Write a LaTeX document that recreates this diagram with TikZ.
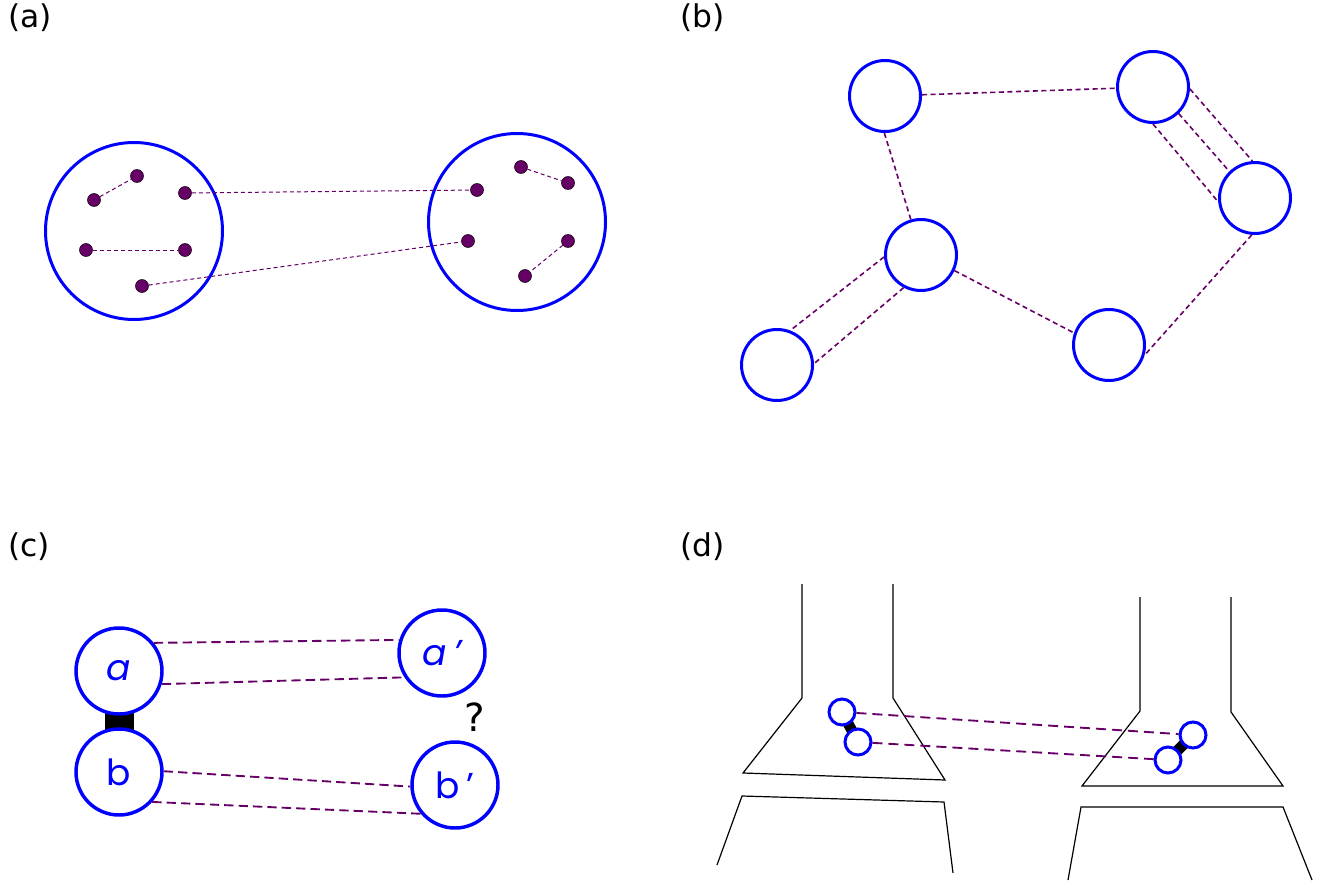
\documentclass[tikz,border=0pt]{standalone}
\usepackage{fontspec}
\setmainfont{DejaVu Sans}
\newfontfamily\popfont{Poppins}
\usetikzlibrary{shapes.geometric}
\definecolor{purp}{RGB}{102,0,102}
\definecolor{dotc}{RGB}{102,0,102}
\pgfdeclarelayer{background}
\pgfsetlayers{background,main}
\begin{document}
\begin{tikzpicture}[x=0.75pt,y=-0.75pt,
 lbl/.style={anchor=base west,inner sep=0pt,font=\fontsize{23.5}{27}\selectfont},
 bigc/.style={ellipse,draw=blue,line width=2.25pt,inner sep=0pt},
 dotn/.style={circle,draw=black,line width=0.4pt,fill=dotc,inner sep=0pt,minimum size=9.75pt},
 lnka/.style={draw=purp,line width=0.75pt,dash pattern=on 3pt off 2.25pt},
 bc/.style={circle,draw=blue,line width=2.25pt,inner sep=0pt,minimum size=53.25pt},
 lnkb/.style={draw=purp,line width=1.2pt,dash pattern=on 3.8pt off 2.6pt},
 cc/.style={circle,draw=blue,fill=white,line width=2.6pt,inner sep=0pt,minimum size=64.5pt,text=blue,font=\popfont\fontsize{27}{30}\selectfont},
 lnkc/.style={draw=purp,line width=1.4pt,dash pattern=on 7pt off 3.8pt},
 dc/.style={circle,draw=blue,fill=white,line width=2.25pt,inner sep=0pt,minimum size=19.5pt},
 lnkd/.style={draw=purp,line width=1.4pt,dash pattern=on 7.5pt off 4.5pt},
 wall/.style={draw=black,line width=0.9pt}
]
\useasboundingbox (0,0) rectangle (1319,884);

% labels
\node[lbl] (la) at (8,28) {(a)};
\node[lbl] (lb) at (680,28) {(b)};
\node[lbl] (lc) at (8,556) {(c)};
\node[lbl] (ld) at (680,556) {(d)};

% ---------- panel (a)
\node[bigc,minimum width=132.75pt,minimum height=132.75pt] (G1) at (134,231) {};
\node[bigc,minimum width=132.75pt,minimum height=132.75pt] (G2) at (517,222) {};
\node[dotn] (L1) at (94,200) {};
\node[dotn] (L2) at (137,176) {};
\node[dotn] (L3) at (185,193) {};
\node[dotn] (L4) at (86,250) {};
\node[dotn] (L5) at (185,250) {};
\node[dotn] (L6) at (142,286) {};
\node[dotn] (R1) at (477,190) {};
\node[dotn] (R2) at (521,167) {};
\node[dotn] (R3) at (568,183) {};
\node[dotn] (R4) at (468,241) {};
\node[dotn] (R5) at (568,241) {};
\node[dotn] (R6) at (525,276) {};
\draw[lnka] (L1) -- (L2);
\draw[lnka] (L3) -- (R1);
\draw[lnka] (L4) -- (L5);
\draw[lnka] (L6) -- (R4);
\draw[lnka] (R2) -- (R3);
\draw[lnka] (R5) -- (R6);

% ---------- panel (b)
\node[bc] (A) at (885,96) {};
\node[bc] (B) at (1153,87) {};
\node[bc] (C) at (1255,198) {};
\node[bc] (D) at (921,255) {};
\node[bc] (E) at (777,365) {};
\node[bc] (F) at (1109,345) {};
\draw[lnkb] (A) -- (B);
\draw[lnkb] (A.-91) -- (D.106);
\draw[lnkb] (B.-3) -- (C.94);
\draw[lnkb] (B.-46) -- (C.134);
\draw[lnkb] (B.-90) -- (C.186);
\draw[lnkb] (D.183) -- (E.69);
\draw[lnkb] (D.242) -- (E.2);
\draw[lnkb] (D.-25) -- (F.161);
\draw[lnkb] (C.265) -- (F.-16);

% ---------- panel (c)
\node[cc] (a) at (119,671) {\itshape a};
\node[cc] (b) at (119,772) {b};
\node[cc] (ap) at (442,653) {\itshape a\,’};
\node[cc] (bp) at (455,785) {b\,’};
\begin{pgfonlayer}{background}
\fill[black] (105,708) rectangle (134,734);
\end{pgfonlayer}
\node[font=\fontsize{29}{32}\selectfont,inner sep=0pt] (q) at (475,717) {?};
\draw[lnkc] (a.39) -- (ap.163);
\draw[lnkc] (a.-17) -- (ap.213);
\draw[lnkc] (b.1) -- (bp.182);
\draw[lnkc] (b.-42) -- (bp.220);

% ---------- panel (d)
\draw[wall] (802,584) -- (802,698) -- (743,773) -- (945,780) -- (893,698) -- (893,584);
\draw[wall] (717,865) -- (742,796) -- (944,802) -- (953,873);
\draw[wall] (1140,597) -- (1140,711) -- (1082,786) -- (1283,786) -- (1231,712) -- (1231,597);
\draw[wall] (1068,880) -- (1081,807) -- (1283,807) -- (1312,880);
\node[dc] (c1) at (842,712) {};
\node[dc] (c2) at (858,742) {};
\node[dc] (c3) at (1193,735) {};
\node[dc] (c4) at (1168,760) {};
\begin{pgfonlayer}{background}
\draw[black,line width=8pt] (c1.center) -- (c2.center);
\draw[black,line width=8pt] (c3.center) -- (c4.center);
\end{pgfonlayer}
\draw[lnkd] (c1) -- (c3);
\draw[lnkd] (c2) -- (c4);
\end{tikzpicture}
\end{document}
